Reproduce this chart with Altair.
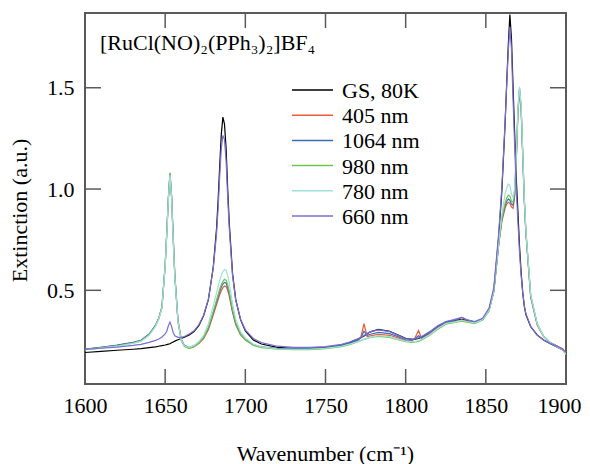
import altair as alt
import pandas as pd

# ---------------- data ----------------
wavenumber = [
    1600, 1610, 1620, 1630, 1635, 1640, 1644, 1646, 1648, 1650, 1651, 1652, 1653, 1654, 1655, 1656, 1658, 1660, 1662, 1665, 1668,
    1671, 1674, 1677, 1680, 1682, 1683, 1684, 1685, 1686, 1687, 1688, 1689, 1690, 1692, 1694, 1697, 1700, 1705, 1710,
    1720, 1730, 1740, 1750, 1760, 1765, 1770, 1772, 1774, 1776, 1778, 1783, 1790, 1795, 1800, 1804, 1806, 1808, 1810, 1815,
    1820, 1825, 1830, 1835, 1838, 1843, 1848, 1852,
    1855, 1858, 1860, 1862, 1863, 1864, 1865, 1866, 1867, 1868, 1869, 1870, 1871, 1872, 1873, 1874, 1875, 1878, 1882, 1886,
    1890, 1895, 1898, 1900,
]

gs_80k = [
    0.193, 0.199, 0.204, 0.209, 0.212, 0.217, 0.221, 0.224, 0.227, 0.230, 0.232, 0.234, 0.236, 0.241, 0.245, 0.249, 0.256, 0.262, 0.268, 0.280, 0.297,
    0.325, 0.375, 0.455, 0.615, 0.800, 0.940, 1.110, 1.270, 1.355, 1.320, 1.200, 1.000, 0.830, 0.585, 0.455, 0.355, 0.300, 0.255, 0.235,
    0.218, 0.214, 0.214, 0.219, 0.230, 0.242, 0.258, 0.266, 0.274, 0.285, 0.295, 0.307, 0.298, 0.280, 0.263, 0.258, 0.259, 0.262, 0.269, 0.293,
    0.322, 0.343, 0.350, 0.357, 0.352, 0.343, 0.358, 0.405,
    0.500, 0.760, 0.990, 1.320, 1.520, 1.710, 1.862, 1.740, 1.500, 1.270, 1.050, 0.890, 0.720, 0.590, 0.490, 0.420, 0.380, 0.320, 0.280, 0.255,
    0.238, 0.218, 0.205, 0.192,
]

nm405 = [
    0.209, 0.218, 0.228, 0.242, 0.252, 0.283, 0.327, 0.361, 0.417, 0.624, 0.784, 0.954, 1.078, 0.965, 0.765, 0.578, 0.350, 0.258, 0.226, 0.214, 0.222,
    0.237, 0.262, 0.307, 0.378, 0.428, 0.453, 0.478, 0.498, 0.513, 0.522, 0.519, 0.500, 0.470, 0.392, 0.330, 0.280, 0.255, 0.230, 0.220,
    0.212, 0.210, 0.210, 0.215, 0.226, 0.236, 0.250, 0.268, 0.335, 0.272, 0.275, 0.282, 0.278, 0.265, 0.252, 0.250, 0.268, 0.302, 0.262, 0.285,
    0.315, 0.338, 0.345, 0.354, 0.348, 0.340, 0.356, 0.400,
    0.495, 0.720, 0.840, 0.905, 0.925, 0.935, 0.930, 0.912, 0.905, 0.965, 1.140, 1.370, 1.490, 1.400, 1.170, 0.940, 0.780, 0.465, 0.330, 0.272,
    0.243, 0.222, 0.212, 0.186,
]

nm1064 = [
    0.210, 0.219, 0.229, 0.243, 0.253, 0.284, 0.328, 0.362, 0.418, 0.625, 0.785, 0.955, 1.075, 0.965, 0.765, 0.578, 0.350, 0.258, 0.228, 0.218, 0.226,
    0.241, 0.268, 0.315, 0.389, 0.441, 0.468, 0.494, 0.515, 0.531, 0.539, 0.536, 0.515, 0.483, 0.399, 0.336, 0.283, 0.257, 0.231, 0.221,
    0.214, 0.212, 0.212, 0.217, 0.228, 0.239, 0.254, 0.264, 0.298, 0.278, 0.283, 0.292, 0.286, 0.272, 0.256, 0.254, 0.262, 0.276, 0.266, 0.290,
    0.320, 0.342, 0.350, 0.366, 0.354, 0.343, 0.358, 0.404,
    0.500, 0.730, 0.850, 0.918, 0.940, 0.950, 0.945, 0.925, 0.920, 0.975, 1.150, 1.375, 1.490, 1.400, 1.170, 0.945, 0.785, 0.470, 0.333, 0.273,
    0.244, 0.221, 0.208, 0.188,
]

nm980 = [
    0.207, 0.216, 0.226, 0.240, 0.250, 0.281, 0.325, 0.360, 0.416, 0.622, 0.782, 0.952, 1.080, 0.962, 0.760, 0.572, 0.345, 0.252, 0.222, 0.212, 0.222,
    0.240, 0.268, 0.318, 0.395, 0.450, 0.478, 0.505, 0.527, 0.544, 0.554, 0.550, 0.528, 0.494, 0.406, 0.340, 0.284, 0.256, 0.228, 0.217,
    0.209, 0.207, 0.207, 0.212, 0.222, 0.232, 0.245, 0.251, 0.257, 0.262, 0.267, 0.273, 0.268, 0.256, 0.246, 0.243, 0.245, 0.248, 0.255, 0.278,
    0.308, 0.333, 0.340, 0.348, 0.343, 0.336, 0.353, 0.398,
    0.495, 0.725, 0.855, 0.930, 0.955, 0.970, 0.965, 0.940, 0.935, 0.990, 1.165, 1.390, 1.500, 1.410, 1.180, 0.950, 0.790, 0.475, 0.335, 0.272,
    0.242, 0.218, 0.205, 0.184,
]

nm780 = [
    0.206, 0.215, 0.224, 0.238, 0.248, 0.278, 0.322, 0.357, 0.413, 0.618, 0.778, 0.948, 1.070, 0.955, 0.755, 0.570, 0.345, 0.255, 0.226, 0.217, 0.228,
    0.247, 0.278, 0.335, 0.423, 0.486, 0.518, 0.549, 0.574, 0.593, 0.603, 0.599, 0.574, 0.536, 0.435, 0.360, 0.297, 0.265, 0.234, 0.221,
    0.211, 0.209, 0.209, 0.214, 0.224, 0.234, 0.247, 0.253, 0.259, 0.264, 0.269, 0.276, 0.271, 0.259, 0.249, 0.246, 0.248, 0.251, 0.258, 0.281,
    0.311, 0.336, 0.343, 0.352, 0.346, 0.339, 0.356, 0.402,
    0.500, 0.735, 0.875, 0.975, 1.005, 1.025, 1.018, 0.975, 0.958, 1.005, 1.175, 1.395, 1.505, 1.415, 1.185, 0.955, 0.795, 0.478, 0.336, 0.273,
    0.243, 0.219, 0.206, 0.185,
]

nm660 = [
    0.208, 0.214, 0.220, 0.228, 0.233, 0.243, 0.253, 0.260, 0.270, 0.285, 0.298, 0.325, 0.343, 0.322, 0.292, 0.276, 0.268, 0.268, 0.272, 0.284, 0.300,
    0.330, 0.378, 0.458, 0.610, 0.775, 0.900, 1.060, 1.200, 1.265, 1.245, 1.140, 0.960, 0.805, 0.575, 0.452, 0.358, 0.305, 0.262, 0.242,
    0.224, 0.218, 0.218, 0.222, 0.233, 0.245, 0.260, 0.268, 0.277, 0.287, 0.296, 0.305, 0.296, 0.279, 0.262, 0.259, 0.262, 0.266, 0.272, 0.296,
    0.325, 0.346, 0.355, 0.366, 0.356, 0.346, 0.362, 0.412,
    0.515, 0.780, 1.010, 1.330, 1.510, 1.680, 1.800, 1.690, 1.440, 1.210, 1.000, 0.840, 0.690, 0.575, 0.490, 0.425, 0.385, 0.322, 0.278, 0.255,
    0.238, 0.222, 0.208, 0.193,
]

series_names = ["GS, 80K", "405 nm", "1064 nm", "980 nm", "780 nm", "660 nm"]
series_values = [gs_80k, nm405, nm1064, nm980, nm780, nm660]
series_colors = ["#000000", "#ee5a3a", "#3f6db3", "#6cc653", "#9fe0dc", "#7a6fd3"]

x_ticks = [1600, 1650, 1700, 1750, 1800, 1850, 1900]
y_ticks = [0.5, 1.0, 1.5]
compound = "[RuCl(NO)₂(PPh₃)₂]BF₄"

# ---------------- build table ----------------
rows = []
for name, vals in zip(series_names, series_values):
    for xv, yv in zip(wavenumber, vals):
        rows.append({"series": name, "x": xv, "y": yv})
df = pd.DataFrame(rows)
legend_df = pd.DataFrame({"series": series_names})

W, H = 481, 371
FONT = "Liberation Serif"
AXC = "#5a5a5a"

xscale = alt.Scale(domain=[1600, 1900], nice=False, zero=False)
yscale = alt.Scale(domain=[0.0375, 1.869], nice=False, zero=False)
cscale = alt.Scale(domain=series_names, range=series_colors)
legend_y = alt.Scale(type="point", domain=series_names, range=[77, 203], padding=0)

x_axis = alt.Axis(values=x_ticks, title="Wavenumber (cm⁻¹)", format="d",
                  labelFlush=False, titleX=240, titleY=76,
                  labelOffset={"condition": {"test": "datum.value == 1900", "value": -7}, "value": 0})

lines = alt.Chart(df).mark_line(strokeWidth=1.2, clip=True).encode(
    x=alt.X("x:Q", scale=xscale, axis=x_axis),
    y=alt.Y("y:Q", scale=yscale,
            axis=alt.Axis(values=y_ticks, title="Extinction (a.u.)", format=".1f",
                          titleX=-59, titleY=197)),
    color=alt.Color("series:N", scale=cscale, legend=None),
    detail="series:N",
)

xt = pd.DataFrame({"v": x_ticks})
yt = pd.DataFrame({"v": y_ticks})
tick_style = dict(color=AXC, strokeWidth=1.5)

bottom_ticks = alt.Chart(xt).mark_rule(**tick_style).encode(
    x=alt.X("v:Q", scale=xscale, axis=x_axis), y=alt.value(H), y2=alt.value(H - 15))
top_ticks = alt.Chart(xt).mark_rule(**tick_style).encode(
    x=alt.X("v:Q", scale=xscale, axis=x_axis), y=alt.value(0), y2=alt.value(15))
left_ticks = alt.Chart(yt).mark_rule(**tick_style).encode(
    y=alt.Y("v:Q", scale=yscale, axis=None), x=alt.value(0), x2=alt.value(16))
right_ticks = alt.Chart(yt).mark_rule(**tick_style).encode(
    y=alt.Y("v:Q", scale=yscale, axis=None), x=alt.value(W), x2=alt.value(W - 16))

legend_lines = alt.Chart(legend_df).mark_rule(strokeWidth=1.5).encode(
    y=alt.Y("series:N", scale=legend_y, axis=None),
    x=alt.value(207), x2=alt.value(248),
    color=alt.Color("series:N", scale=cscale, legend=None),
)
legend_text = alt.Chart(legend_df).mark_text(
    align="left", baseline="middle", font=FONT, fontSize=22, color="black", dy=1).encode(
    y=alt.Y("series:N", scale=legend_y, axis=None),
    x=alt.value(257), text="series:N",
)

label = alt.Chart(pd.DataFrame({"t": [compound]})).mark_text(
    align="left", baseline="alphabetic", font=FONT, fontSize=22, color="black").encode(
    x=alt.value(15), y=alt.value(37), text="t:N")

chart = alt.layer(lines, bottom_ticks, top_ticks, left_ticks, right_ticks,
                  legend_lines, legend_text, label).resolve_scale(y="independent").properties(
    width=W, height=H,
    autosize=alt.AutoSizeParams(type="none"),
    padding={"left": 77, "top": 5, "right": 16, "bottom": 80},
).configure(font=FONT, background="white").configure_view(
    stroke=AXC, strokeWidth=2
).configure_axis(
    grid=False, domain=False, ticks=False, labelPadding=11,
    labelFont=FONT, labelFontSize=22, labelColor="black",
    titleFont=FONT, titleFontSize=22, titleFontWeight="normal", titleColor="black",
    titleBaseline="alphabetic", titleAnchor="middle",
)

chart.save("out.html", embed_options={"renderer": "svg", "actions": False})
